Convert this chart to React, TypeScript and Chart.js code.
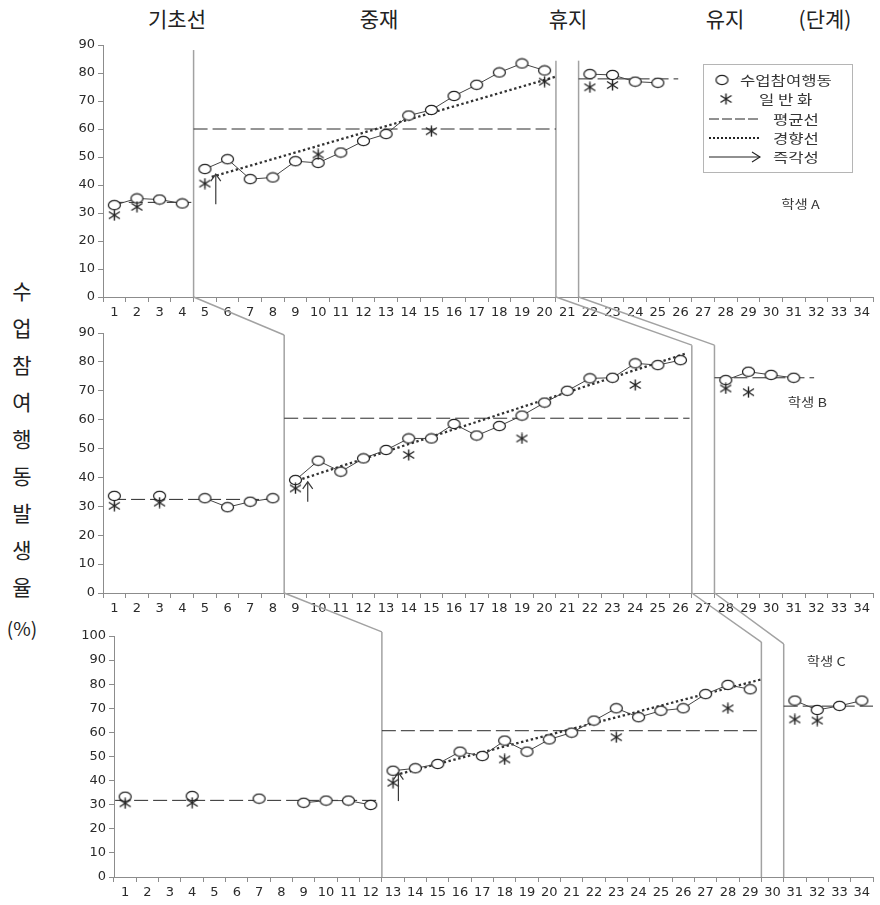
import React, { useEffect, useRef } from 'react';
import { Chart, registerables } from 'chart.js';

Chart.register(...registerables);

// ---------- data ----------
const sessionLabels = ['1', '2', '3', '4', '5', '6', '7', '8', '9', '10', '11', '12', '13', '14', '15', '16', '17',
  '18', '19', '20', '21', '22', '23', '24', '25', '26', '27', '28', '29', '30', '31', '32', '33', '34'];

const phaseTitles = ['기초선', '중재', '휴지', '유지', '(단계)'];
const yTitleChars = ['수', '업', '참', '여', '행', '동', '발', '생', '율', '(%)'];
const legendLabels = ['수업참여행동', '일 반 화', '평균선', '경향선', '즉각성'];
const studentNames = ['학생 A', '학생 B', '학생 C'];

// student A
const engageA = [32.8, 35.2, 34.8, 33.4, 45.7, 49.2, 42.1, 42.7, 48.5, 47.9, 51.6, 55.7, 58.2, 64.8, 66.8, 71.8, 75.8,
  80.2, 83.4, 80.9, null, 79.6, 79.3, 76.9, 76.5, null, null, null, null, null, null, null, null, null];
const generalA = [29.2, 32.2, null, null, 40.5, null, null, null, null, 50.9, null, null, null, null, 59.2, null, null,
  null, null, 76.9, null, 74.9, 75.7, null, null, null, null, null, null, null, null, null, null, null];
const phaseBoundsA = [4.5, 20.5, 21.5];
const phaseTopsA = [88.2, 84.4, 84.4];
const meanLinesA = [[0.8, 4.4, 33.8], [4.5, 20.5, 60], [21.5, 25.9, 77.9]];
const trendA = [5.3, 42.9, 20.5, 78.7];
const arrowA = [5.48, 33.1, 43.9];

// student B
const engageB = [33.6, null, 33.6, null, 32.8, 29.7, 31.6, 32.8, 39.1, 45.8, 42.0, 46.6, 49.5, 53.5, 53.5, 58.5, 54.5,
  57.8, 61.4, 65.9, 70.0, 74.3, 74.5, 79.5, 78.9, 80.6, null, 73.7, 76.6, 75.5, 74.5, null, null, null];
const generalB = [30.2, null, 31.3, null, null, null, null, null, 36.2, null, null, null, null, 47.8, null, null, null,
  null, 53.5, null, null, null, null, 72.0, null, null, null, 70.8, 69.5, null, null, null, null, null];
const phaseBoundsB = [8.5, 26.5, 27.5];
const phaseTopsB = [89.3, 85.8, 85.8];
const meanLinesB = [[0.9, 8.4, 32.4], [8.5, 26.4, 60.5], [27.5, 31.9, 74.5]];
const trendB = [9.3, 39.5, 26.2, 82.8];
const arrowB = [9.54, 31.6, 38.5];

// student C
const engageC = [33.3, null, null, 33.6, null, null, 32.5, null, 30.8, 31.7, 31.7, 29.9, 44.1, 45.1, 46.9, 52.0, 50.2,
  56.6, 52.0, 57.1, 59.9, 64.9, 70.0, 66.3, 69.0, 70.0, 75.9, 79.7, 77.9, null, 73.2, 69.3, 71.0, 73.2];
const generalC = [30.6, null, null, 30.8, null, null, null, null, null, null, null, null, 39.1, null, null, null, null,
  48.8, null, null, null, null, 58.0, null, null, null, null, 70.0, null, null, 65.4, 64.9, null, null];
const phaseBoundsC = [12.5, 29.5, 30.5];
const phaseTopsC = [101.7, 97.5, 96.7];
const meanLinesC = [[0.55, 12.35, 31.8], [12.5, 29.4, 60.7], [30.5, 34.5, 70.9]];
const trendC = [13.1, 42.3, 29.5, 82.0];
const arrowC = [13.24, 31.5, 43.3];

// ---------- styles ----------
const AXIS = '#8c8c8c';
const PHASE = '#a2a2a2';
const INK = '#222222';
const TICK_FONT = { family: '"DejaVu Sans", Verdana, sans-serif', size: 13 };
const KR = '"Noto Sans CJK KR", "Noto Sans", sans-serif';
const XH = 25;

const panels: any[] = [
  { engage: engageA, general: generalA, bounds: phaseBoundsA, tops: phaseTopsA, means: meanLinesA, trend: trendA,
    arrow: arrowA, yMax: 90, name: studentNames[0], labelAt: [31.3, 33.2], legend: true,
    area: { left: 103, top: 45, right: 875, bottom: 297 } },
  { engage: engageB, general: generalB, bounds: phaseBoundsB, tops: phaseTopsB, means: meanLinesB, trend: trendB,
    arrow: arrowB, yMax: 90, name: studentNames[1], labelAt: [31.6, 65.8], legend: false,
    area: { left: 103, top: 333, right: 875, bottom: 593 } },
  { engage: engageC, general: generalC, bounds: phaseBoundsC, tops: phaseTopsC, means: meanLinesC, trend: trendC,
    arrow: arrowC, yMax: 100, name: studentNames[2], labelAt: [32.4, 89.6], legend: false,
    area: { left: 114, top: 636, right: 877, bottom: 877 } },
];

function makeCircleImg() {
  const c = document.createElement('canvas');
  c.width = 15; c.height = 12;
  const g = c.getContext('2d')!;
  g.beginPath();
  g.ellipse(7.5, 6, 6, 4.6, 0, 0, Math.PI * 2);
  g.fillStyle = '#ffffff';
  g.fill();
  g.strokeStyle = INK;
  g.lineWidth = 1.25;
  g.stroke();
  return c;
}

function makeStarImg() {
  const c = document.createElement('canvas');
  c.width = 13; c.height = 12;
  const g = c.getContext('2d')!;
  g.strokeStyle = INK;
  g.lineWidth = 1.4;
  g.beginPath();
  g.moveTo(6.5, 0.5); g.lineTo(6.5, 11.5);
  g.moveTo(1, 2.5); g.lineTo(12, 9.5);
  g.moveTo(1, 9.5); g.lineTo(12, 2.5);
  g.stroke();
  return c;
}

function line(ctx: CanvasRenderingContext2D, x0: number, y0: number, x1: number, y1: number) {
  ctx.beginPath();
  ctx.moveTo(x0, y0);
  ctx.lineTo(x1, y1);
  ctx.stroke();
}

function stretchedText(ctx: CanvasRenderingContext2D, text: string, x: number, y: number, align: CanvasTextAlign, sx: number) {
  ctx.save();
  ctx.translate(x, y);
  ctx.scale(sx, 1);
  ctx.textAlign = align;
  ctx.textBaseline = 'middle';
  ctx.fillText(text, 0, 0);
  ctx.restore();
}

function makeChart(canvas: HTMLCanvasElement, p: any, prevChart: any, prevPanel: any, circleImg: any, starImg: any) {
  const phaseOf = (session: number) => p.bounds.filter((b: number) => session > b).length;
  const area = p.area;

  const plugin = {
    id: 'panelExtras',
    beforeDatasetsDraw(chart: any) {
      const ctx = chart.ctx;
      const X = (s: number) => chart.scales.x.getPixelForValue(s - 1);
      const Y = (v: number) => chart.scales.y.getPixelForValue(v);
      ctx.save();
      // phase change lines
      ctx.strokeStyle = PHASE;
      ctx.lineWidth = 1.5;
      p.bounds.forEach((b: number, i: number) => line(ctx, X(b), Y(p.tops[i]), X(b), Y(0)));
      // connectors from previous panel
      if (prevChart && prevPanel) {
        const PX = (s: number) => prevChart.scales.x.getPixelForValue(s - 1);
        const PY = (v: number) => prevChart.scales.y.getPixelForValue(v);
        prevPanel.bounds.forEach((b: number, i: number) =>
          line(ctx, PX(b), PY(0), X(p.bounds[i]), Y(p.tops[i])));
      }
      // mean lines
      ctx.strokeStyle = '#2a2a2a';
      ctx.lineWidth = 1;
      ctx.setLineDash([14, 5]);
      p.means.forEach((m: number[]) => line(ctx, X(m[0]), Y(m[2]), X(m[1]), Y(m[2])));
      // trend line
      ctx.strokeStyle = '#333';
      ctx.lineWidth = 2.3;
      ctx.setLineDash([2.4, 2.6]);
      line(ctx, X(p.trend[0]), Y(p.trend[1]), X(p.trend[2]), Y(p.trend[3]));
      ctx.restore();
    },
    afterDatasetsDraw(chart: any) {
      const ctx = chart.ctx;
      const X = (s: number) => chart.scales.x.getPixelForValue(s - 1);
      const Y = (v: number) => chart.scales.y.getPixelForValue(v);
      ctx.save();
      // immediacy arrow
      const ax = X(p.arrow[0]);
      const y0 = Y(p.arrow[1]);
      const y1 = Y(p.arrow[2]);
      ctx.strokeStyle = '#3a3a3a';
      ctx.lineWidth = 1.2;
      line(ctx, ax, y0, ax, y1);
      ctx.beginPath();
      ctx.moveTo(ax - 5, y1 + 7);
      ctx.lineTo(ax, y1);
      ctx.lineTo(ax + 5, y1 + 7);
      ctx.stroke();
      // student label
      ctx.fillStyle = '#333';
      ctx.font = `12px ${KR}`;
      stretchedText(ctx, p.name, X(p.labelAt[0]), Y(p.labelAt[1]), 'center', 1.2);
      // legend (panel A only)
      if (p.legend) {
        ctx.strokeStyle = '#b5b5b5';
        ctx.lineWidth = 1;
        ctx.strokeRect(703.5, 64.5, 149, 108);
        ctx.font = `13px ${KR}`;
        ctx.fillStyle = '#333';
        ctx.drawImage(circleImg, 722 - 7.5, 80 - 6);
        stretchedText(ctx, legendLabels[0], 740, 80, 'left', 1.28);
        ctx.drawImage(starImg, 726 - 6.5, 99 - 6);
        stretchedText(ctx, legendLabels[1], 759, 99, 'left', 1.28);
        ctx.strokeStyle = INK;
        ctx.setLineDash([10, 3]);
        line(ctx, 709, 119, 760, 119);
        stretchedText(ctx, legendLabels[2], 773, 119, 'left', 1.28);
        ctx.lineWidth = 2;
        ctx.setLineDash([2, 2]);
        line(ctx, 709, 138, 760, 138);
        stretchedText(ctx, legendLabels[3], 773, 138, 'left', 1.28);
        ctx.setLineDash([]);
        ctx.lineWidth = 1.1;
        line(ctx, 709, 157, 760, 157);
        ctx.beginPath();
        ctx.moveTo(752, 152);
        ctx.lineTo(760, 157);
        ctx.lineTo(752, 162);
        ctx.stroke();
        stretchedText(ctx, legendLabels[4], 773, 157, 'left', 1.28);
      }
      ctx.restore();
    },
  };

  return new Chart(canvas, {
    type: 'line',
    data: {
      labels: sessionLabels,
      datasets: [
        {
          data: p.general,
          showLine: false,
          pointStyle: starImg,
          pointRadius: 6,
          pointHoverRadius: 6,
        },
        {
          data: p.engage,
          borderColor: '#444',
          borderWidth: 1,
          pointStyle: circleImg,
          pointRadius: 6,
          pointHoverRadius: 6,
          spanGaps: false,
          segment: {
            borderColor: (c: any) =>
              phaseOf(c.p0DataIndex + 1) !== phaseOf(c.p1DataIndex + 1) ? 'rgba(0,0,0,0)' : '#444',
          },
        },
      ],
    },
    options: {
      responsive: false,
      animation: false,
      devicePixelRatio: 1,
      events: [],
      layout: {
        padding: { left: 0, top: area.top, right: 880 - area.right, bottom: 905 - area.bottom - XH },
      },
      plugins: { legend: { display: false }, tooltip: { enabled: false } },
      scales: {
        x: {
          type: 'category',
          offset: true,
          grid: { offset: true, drawOnChartArea: false, drawTicks: true, tickLength: 5, color: AXIS },
          border: { color: AXIS, width: 1 },
          ticks: { autoSkip: false, maxRotation: 0, minRotation: 0, padding: 3, font: TICK_FONT, color: '#2a2a2a' },
          afterFit: (s: any) => { s.height = XH; s.paddingLeft = 0; s.paddingRight = 0; },
        },
        y: {
          min: 0,
          max: p.yMax,
          grid: { drawOnChartArea: false, drawTicks: true, tickLength: 5, color: AXIS },
          border: { color: AXIS, width: 1 },
          ticks: { stepSize: 10, padding: 3, font: TICK_FONT, color: '#2a2a2a' },
          afterFit: (s: any) => { s.width = area.left; },
        },
      },
    },
    plugins: [plugin],
  } as any);
}

const headerPos = [177, 379, 568, 725, 825];

export default function App() {
  const refA = useRef<HTMLCanvasElement>(null);
  const refB = useRef<HTMLCanvasElement>(null);
  const refC = useRef<HTMLCanvasElement>(null);

  useEffect(() => {
    const circleImg = makeCircleImg();
    const starImg = makeStarImg();
    const a = makeChart(refA.current!, panels[0], null, null, circleImg, starImg);
    const b = makeChart(refB.current!, panels[1], a, panels[0], circleImg, starImg);
    const c = makeChart(refC.current!, panels[2], b, panels[1], circleImg, starImg);
    return () => { a.destroy(); b.destroy(); c.destroy(); };
  }, []);

  const canvasStyle: React.CSSProperties = { position: 'absolute', left: 0, top: 0 };
  const textStyle: React.CSSProperties = {
    position: 'absolute', transform: 'translate(-50%, -50%)', whiteSpace: 'nowrap',
    fontFamily: KR, fontSize: 21, lineHeight: 1, color: '#222',
  };

  return (
    <div style={{ position: 'absolute', left: 0, top: 0, width: 880, height: 905, background: '#fff', overflow: 'hidden' }}>
      {phaseTitles.map((t, i) => (
        <span key={'h' + i} style={{ ...textStyle, left: headerPos[i], top: 18 }}>{t}</span>
      ))}
      {yTitleChars.map((t, i) => (
        <span key={'y' + i} style={{ ...textStyle, left: 22, top: 290 + i * 37 + (i === 9 ? 4 : 0), fontSize: i === 9 ? 19 : 21 }}>{t}</span>
      ))}
      <canvas ref={refA} width={880} height={905} style={canvasStyle} />
      <canvas ref={refB} width={880} height={905} style={canvasStyle} />
      <canvas ref={refC} width={880} height={905} style={canvasStyle} />
    </div>
  );
}
